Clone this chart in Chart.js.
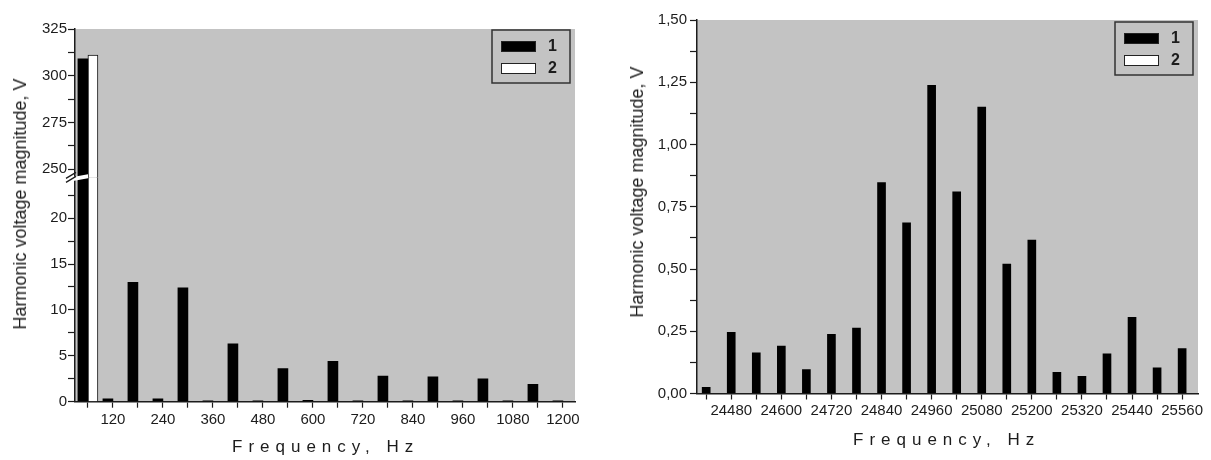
<!DOCTYPE html>
<html>
<head>
<meta charset="utf-8">
<title>Harmonic voltage magnitude</title>
<script src="https://cdn.jsdelivr.net/npm/chart.js@4.4.1/dist/chart.umd.min.js"></script>
<style>
    body { margin: 0; background: #fff; }
    #wrap { position: relative; width: 1211px; height: 460px; overflow: hidden; font-family: 'Liberation Sans', Arial, sans-serif; color: #1c1c1c; }
    .panel { position: absolute; top: 0; height: 460px; }
    #leftPanel { left: 0; width: 600px; }
    #rightPanel { left: 600px; width: 611px; }
    .ytitle { position: absolute; font-size: 18px; line-height: 1; white-space: nowrap; transform: translate(-50%, -50%) rotate(-90deg); }
    .xtitle { position: absolute; font-size: 17px; line-height: 1; letter-spacing: 6px; white-space: nowrap; transform: translateY(-50%); }
</style>
</head>
<body>
<div id="wrap">
    <div class="panel" id="leftPanel"><canvas id="leftChart"></canvas></div>
    <div class="panel" id="rightPanel"><canvas id="rightChart"></canvas></div>
    <div class="ytitle" style="left:20px; top:204px;">Harmonic voltage magnitude, V</div>
    <div class="ytitle" style="left:637px; top:192px;">Harmonic voltage magnitude, V</div>
    <div class="xtitle" style="left:232px; top:446px;">Frequency, Hz</div>
    <div class="xtitle" style="left:853px; top:439px;">Frequency, Hz</div>
</div>
<script>
    //linker grafiek: grondgolf + harmonischen tot 1200 Hz
    let lowFreq = [60, 120, 180, 240, 300, 360, 420, 480, 540, 600, 660, 720, 780, 840, 900, 960, 1020, 1080, 1140, 1200];
    let lowSeries1 = [309, 0.3, 13.0, 0.3, 12.4, 0.1, 6.3, 0.1, 3.6, 0.15, 4.4, 0.1, 2.8, 0.1, 2.7, 0.1, 2.5, 0.1, 1.9, 0.1];
    let lowSeries2 = [311, 0, 0, 0, 0, 0, 0, 0, 0, 0, 0, 0, 0, 0, 0, 0, 0, 0, 0, 0];
    let lowXLabels = [120, 240, 360, 480, 600, 720, 840, 960, 1080, 1200];
    let lowYLabelsBottom = [0, 5, 10, 15, 20];
    let lowYLabelsTop = [250, 275, 300, 325];

    //rechter grafiek: band rond 25 kHz
    let highFreq = [24420, 24480, 24540, 24600, 24660, 24720, 24780, 24840, 24900, 24960, 25020, 25080, 25140, 25200, 25260, 25320, 25380, 25440, 25500, 25560];
    let highSeries1 = [0.025, 0.246, 0.163, 0.19, 0.096, 0.238, 0.263, 0.847, 0.685, 1.238, 0.81, 1.15, 0.52, 0.616, 0.085, 0.069, 0.159, 0.306, 0.103, 0.18];
    let highSeries2 = [];
    let highXLabels = [24480, 24600, 24720, 24840, 24960, 25080, 25200, 25320, 25440, 25560];
    let highYValues = [0, 0.25, 0.5, 0.75, 1, 1.25, 1.5];
    let highYLabels = ['0,00', '0,25', '0,50', '0,75', '1,00', '1,25', '1,50'];

    let plotGray = '#c3c3c3';
    let ink = '#1c1c1c';
    let fontFamily = "'Liberation Sans', Arial, sans-serif";

    Chart.defaults.font.family = fontFamily;

    function pairs(xs, ys) {
        return ys.map((y, i) => ({ x: xs[i], y: y }));
    }

    function near(list, v) {
        return list.findIndex(l => Math.abs(l - v) < 1e-6);
    }

    //grijze achtergrond van het plotvlak
    const plotBackground = {
        id: 'plotBackground',
        beforeDraw(chart) {
            let a = chart.chartArea;
            let ctx = chart.ctx;
            ctx.save();
            ctx.fillStyle = plotGray;
            ctx.fillRect(a.left, a.top, a.right - a.left, a.bottom - a.top);
            ctx.restore();
        }
    };

    //elke dataset alleen binnen zijn eigen y-as tekenen (gebroken as)
    const segmentClip = {
        id: 'segmentClip',
        beforeDatasetDraw(chart, args) {
            let y = args.meta.yScale;
            let a = chart.chartArea;
            chart.ctx.save();
            chart.ctx.beginPath();
            chart.ctx.rect(a.left, y.top, a.right - a.left, y.bottom - y.top);
            chart.ctx.clip();
        },
        afterDatasetDraw(chart) {
            chart.ctx.restore();
        }
    };

    //breukteken op de y-as
    const axisBreak = {
        id: 'axisBreak',
        afterDraw(chart) {
            let ctx = chart.ctx;
            let x = chart.chartArea.left;
            let y = chart.scales.yTop.bottom;
            ctx.save();
            ctx.fillStyle = '#fff';
            ctx.beginPath();
            ctx.moveTo(x - 9, y + 1);
            ctx.lineTo(x + 13, y - 3);
            ctx.lineTo(x + 13, y + 1);
            ctx.lineTo(x - 9, y + 5);
            ctx.closePath();
            ctx.fill();
            ctx.strokeStyle = ink;
            ctx.lineWidth = 1.3;
            ctx.beginPath();
            ctx.moveTo(x - 9, y + 1);
            ctx.lineTo(x + 1, y - 5);
            ctx.moveTo(x - 9, y + 5);
            ctx.lineTo(x + 1, y - 1);
            ctx.stroke();
            ctx.restore();
        }
    };

    //legenda in een kader rechtsboven
    const boxLegend = {
        id: 'boxLegend',
        afterDraw(chart, args, opts) {
            let a = chart.chartArea;
            let ctx = chart.ctx;
            let w = 78, h = 53;
            let left = a.right - opts.right - w;
            let top = a.top + opts.top;
            ctx.save();
            ctx.strokeStyle = '#333';
            ctx.lineWidth = 1.5;
            ctx.strokeRect(left, top, w, h);
            let items = chart.data.datasets.filter(d => d.yAxisID !== 'yTop');
            items.forEach((d, i) => {
                let sy = top + 11 + i * 22;
                ctx.fillStyle = d.backgroundColor;
                ctx.fillRect(left + 9, sy, 35, 11);
                ctx.strokeStyle = '#222';
                ctx.lineWidth = 1;
                ctx.strokeRect(left + 9.5, sy + 0.5, 34, 10);
                ctx.fillStyle = ink;
                ctx.font = 'bold 16px ' + fontFamily;
                ctx.textBaseline = 'middle';
                ctx.fillText(d.label, left + 56, sy + 6);
            });
            ctx.restore();
        }
    };

    function axisStyle(extra) {
        return Object.assign({
            grid: { drawOnChartArea: false, tickLength: 7, tickColor: ink, tickWidth: 1.2 },
            border: { color: ink, width: 1.5 }
        }, extra);
    }

    let tickFont = { family: fontFamily, size: 15 };

    //linker grafiek
    new Chart(document.getElementById('leftChart'), {
        type: 'bar',
        data: {
            datasets: [
                { label: '1', data: pairs(lowFreq, lowSeries1), yAxisID: 'yBot', stack: 'a', backgroundColor: '#000', borderWidth: 0 },
                { label: '2', data: pairs(lowFreq, lowSeries2), yAxisID: 'yBot', stack: 'b', backgroundColor: '#fff', borderColor: '#111', borderWidth: 1 },
                { label: '1', data: pairs(lowFreq, lowSeries1), yAxisID: 'yTop', stack: 'a', backgroundColor: '#000', borderWidth: 0 },
                { label: '2', data: pairs(lowFreq, lowSeries2), yAxisID: 'yTop', stack: 'b', backgroundColor: '#fff', borderColor: '#111', borderWidth: 1 }
            ]
        },
        options: {
            responsive: true,
            maintainAspectRatio: false,
            animation: false,
            layout: { padding: { top: 29, right: 25, left: 0, bottom: 0 } },
            datasets: { bar: { barThickness: 10 } },
            plugins: {
                legend: { display: false },
                tooltip: { enabled: false },
                boxLegend: { top: 1, right: 5 }
            },
            scales: {
                x: axisStyle({
                    type: 'linear', min: 29, max: 1229, offset: false,
                    grid: { drawOnChartArea: false, offset: false, tickLength: 6, tickColor: ink, tickWidth: 1.2 },
                    ticks: { autoSkip: false, maxRotation: 0, padding: 3, color: ink, font: tickFont,
                        callback: v => lowXLabels.includes(v) ? String(v) : '' },
                    afterBuildTicks: s => { s.ticks = lowFreq.map(f => ({ value: f })); },
                    afterFit: s => { s.height = 58.3; }
                }),
                yBot: axisStyle({
                    type: 'linear', position: 'left', stack: 'left', stackWeight: 224.2,
                    min: 0, max: 24.45, beginAtZero: false,
                    ticks: { stepSize: 2.5, includeBounds: false, autoSkip: false, padding: 1, color: ink, font: tickFont,
                        callback: v => lowYLabelsBottom.includes(v) ? String(v) : '' },
                    afterFit: s => { s.width = 75; }
                }),
                yTop: axisStyle({
                    type: 'linear', position: 'left', stack: 'left', stackWeight: 148.2,
                    min: 245.6, max: 325, beginAtZero: false,
                    ticks: { stepSize: 12.5, includeBounds: false, autoSkip: false, padding: 1, color: ink, font: tickFont,
                        callback: v => lowYLabelsTop.includes(v) ? String(v) : '' },
                    afterFit: s => { s.width = 75; }
                })
            }
        },
        plugins: [plotBackground, segmentClip, axisBreak, boxLegend]
    });

    //rechter grafiek
    new Chart(document.getElementById('rightChart'), {
        type: 'bar',
        data: {
            datasets: [
                { label: '1', data: pairs(highFreq, highSeries1), backgroundColor: '#000', borderWidth: 0 },
                { label: '2', data: pairs(highFreq, highSeries2), backgroundColor: '#fff', borderColor: '#111', borderWidth: 1 }
            ]
        },
        options: {
            responsive: true,
            maintainAspectRatio: false,
            animation: false,
            layout: { padding: { top: 20, right: 13, left: 0, bottom: 0 } },
            datasets: { bar: { barThickness: 8, skipNull: true } },
            plugins: {
                legend: { display: false },
                tooltip: { enabled: false },
                boxLegend: { top: 2, right: 5 }
            },
            scales: {
                x: axisStyle({
                    type: 'linear', min: 24398, max: 25598, offset: false,
                    grid: { drawOnChartArea: false, offset: false, tickLength: 6, tickColor: ink, tickWidth: 1.2 },
                    ticks: { autoSkip: false, maxRotation: 0, padding: 2, color: ink, font: tickFont,
                        callback: v => highXLabels.includes(v) ? String(v) : '' },
                    afterBuildTicks: s => { s.ticks = highFreq.map(f => ({ value: f })); },
                    afterFit: s => { s.height = 66.5; }
                }),
                y: axisStyle({
                    type: 'linear', position: 'left', min: 0, max: 1.5,
                    ticks: { stepSize: 0.125, includeBounds: false, autoSkip: false, padding: 3, color: ink, font: tickFont,
                        callback: v => { let i = near(highYValues, v); return i >= 0 ? highYLabels[i] : ''; } },
                    afterFit: s => { s.width = 97; }
                })
            }
        },
        plugins: [plotBackground, boxLegend]
    });
</script>
</body>
</html>
